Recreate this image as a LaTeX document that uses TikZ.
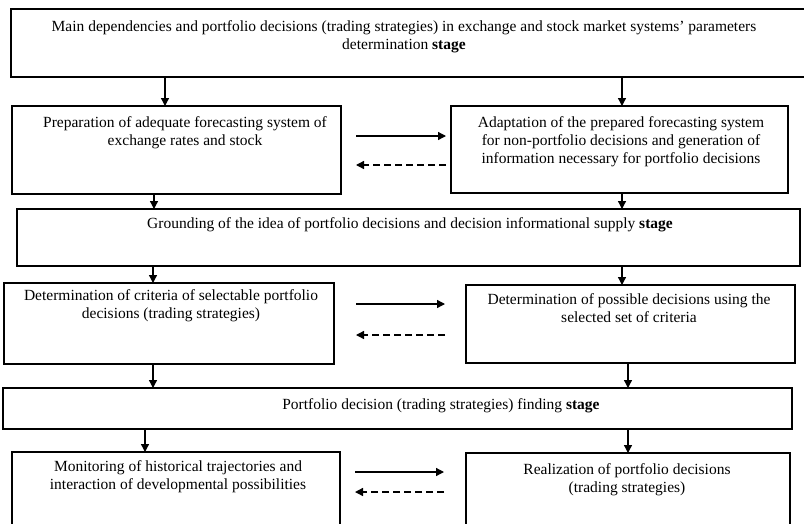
\documentclass[tikz,border=0pt]{standalone}
\usepackage{fontspec}
\setmainfont{Liberation Serif}
\usetikzlibrary{arrows.meta}
\tikzset{
  stagebox/.style={draw, line width=2.4pt, inner sep=0pt, outer sep=0pt},
  rowbox/.style={draw, line width=1.5pt, inner sep=0pt, outer sep=0pt},
  lbl/.style={align=center, inner sep=0pt, anchor=north, font=\fontsize{15.5}{18}\selectfont},
  arr/.style={line width=1.3pt, -{Triangle[length=8pt,width=8pt]}},
  darr/.style={line width=1.3pt, dash pattern=on 7pt off 4pt, -{Triangle[length=8pt,width=8pt]}},
}
\begin{document}
\begin{tikzpicture}[x=1pt,y=-1pt]
\useasboundingbox (0,0) rectangle (804,523);
\begin{scope}
\clip (0,0) rectangle (804,523);
% boxes
\node[stagebox, anchor=north west, minimum width=810pt, minimum height=68pt] (top) at (11,9) {};
\node[rowbox, anchor=north west, minimum width=329pt, minimum height=88pt] (r1l) at (12,106) {};
\node[rowbox, anchor=north west, minimum width=337pt, minimum height=87pt] (r1r) at (451,106) {};
\node[stagebox, anchor=north west, minimum width=783pt, minimum height=57pt] (s2) at (17,209) {};
\node[rowbox, anchor=north west, minimum width=330pt, minimum height=81pt] (r2l) at (4,283) {};
\node[rowbox, anchor=north west, minimum width=329pt, minimum height=78pt] (r2r) at (466,285) {};
\node[stagebox, anchor=north west, minimum width=789pt, minimum height=41pt] (s3) at (3,388) {};
\node[rowbox, anchor=north west, minimum width=328pt, minimum height=90pt] (r3l) at (12,452) {};
\node[rowbox, anchor=north west, minimum width=324pt, minimum height=90pt] (r3r) at (466,453) {};
\end{scope}
% labels
\node[lbl] (ttop) at (404,20) {Main dependencies and portfolio decisions (trading strategies) in exchange and stock market systems’ parameters\\determination \textbf{stage}};
\node[lbl] (tr1l) at (185,116) {Preparation of adequate forecasting system of\\exchange rates and stock};
\node[lbl] (tr1r) at (621,116) {Adaptation of the prepared forecasting system\\for non-portfolio decisions and generation of\\information necessary for portfolio decisions};
\node[lbl] (ts2) at (410,217) {Grounding of the idea of portfolio decisions and decision informational supply \textbf{stage}};
\node[lbl] (tr2l) at (171,289) {Determination of criteria of selectable portfolio\\decisions (trading strategies)};
\node[lbl] (tr2r) at (629,293) {Determination of possible decisions using the\\selected set of criteria};
\node[lbl] (ts3) at (441,398) {Portfolio decision (trading strategies) finding \textbf{stage}};
\node[lbl] (tr3l) at (178,460) {Monitoring of historical trajectories and\\interaction of developmental possibilities};
\node[lbl] (tr3r) at (627,463) {Realization of portfolio decisions\\(trading strategies)};
% x positions of vertical arrows
\coordinate (xa) at (165,0);
\coordinate (xb) at (622,0);
\coordinate (xc) at (154,0);
\coordinate (xd) at (153,0);
\coordinate (xe) at (628,0);
\coordinate (xf) at (145,0);
% vertical arrows
\draw[arr] (top.south -| xa) -- (r1l.north -| xa);
\draw[arr] (top.south -| xb) -- (r1r.north -| xb);
\draw[arr] (r1l.south -| xc) -- (s2.north -| xc);
\draw[arr] (r1r.south -| xb) -- (s2.north -| xb);
\draw[arr] (s2.south -| xd) -- (r2l.north -| xd);
\draw[arr] (s2.south -| xb) -- (r2r.north -| xb);
\draw[arr] (r2l.south -| xd) -- (s3.north -| xd);
\draw[arr] (r2r.south -| xe) -- (s3.north -| xe);
\draw[arr] (s3.south -| xf) -- (r3l.north -| xf);
\draw[arr] (s3.south -| xe) -- (r3r.north -| xe);
% horizontal arrows
\coordinate (h1) at (0,136);
\coordinate (h2) at (0,165);
\coordinate (h3) at (0,304);
\coordinate (h4) at (0,335);
\coordinate (h5) at (0,472);
\coordinate (h6) at (0,492);
\draw[arr, shorten <=15pt, shorten >=5pt] (r1l.east |- h1) -- (r1r.west |- h1);
\draw[darr, shorten <=5pt, shorten >=15pt] (r1r.west |- h2) -- (r1l.east |- h2);
\draw[arr, shorten <=22pt, shorten >=21pt] (r2l.east |- h3) -- (r2r.west |- h3);
\draw[darr, shorten <=21pt, shorten >=22pt] (r2r.west |- h4) -- (r2l.east |- h4);
\draw[arr, shorten <=15pt, shorten >=22pt] (r3l.east |- h5) -- (r3r.west |- h5);
\draw[darr, shorten <=22pt, shorten >=15pt] (r3r.west |- h6) -- (r3l.east |- h6);
\end{tikzpicture}
\end{document}
